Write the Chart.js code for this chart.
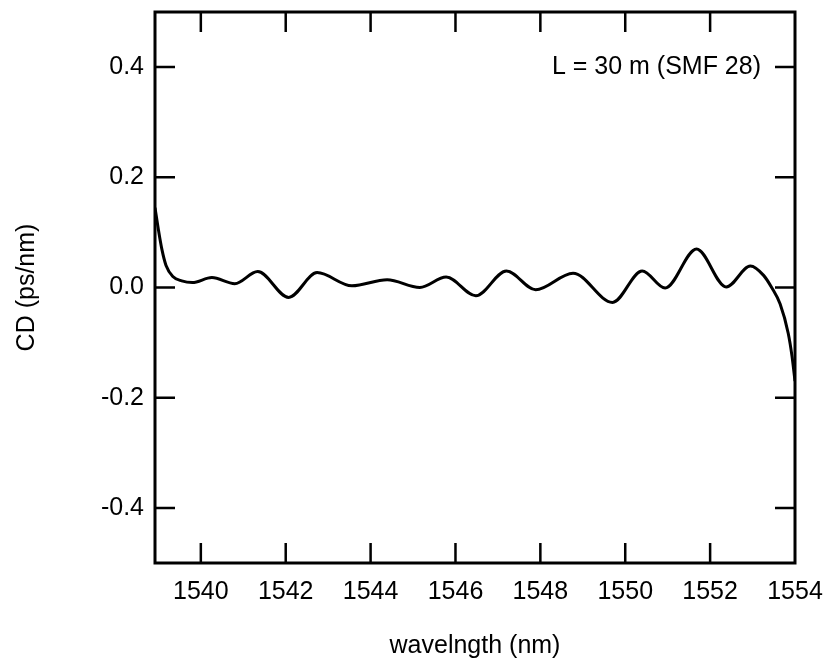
<!DOCTYPE html>
<html>
<head>
<meta charset="utf-8">
<script src="https://cdn.jsdelivr.net/npm/chart.js@4/dist/chart.umd.min.js"></script>
<style>
  html, body { margin: 0; padding: 0; background: #fff; }
  #wrap { width: 827px; height: 659px; }
</style>
</head>
<body>
<div id="wrap"><canvas id="myChart" width="827" height="659"></canvas></div>
<script>
// wavelength (nm) and chromatic dispersion (ps/nm)
var wavelength = [1538.92, 1539.0, 1539.08, 1539.18, 1539.34, 1539.55, 1539.8, 1540.26, 1540.8, 1541.34,
  1542.07, 1542.74, 1543.56, 1544.39, 1545.16, 1545.78, 1546.48, 1547.2, 1547.89, 1548.77,
  1549.7, 1550.4, 1550.94, 1551.68, 1552.38, 1552.95, 1553.26, 1553.45, 1553.65, 1553.84, 1553.93, 1554.0];
var cd = [0.145, 0.105, 0.07, 0.04, 0.02, 0.012, 0.009, 0.018, 0.007, 0.029,
  -0.018, 0.027, 0.003, 0.014, 0.0, 0.019, -0.015, 0.030, -0.004, 0.026,
  -0.027, 0.030, -0.001, 0.070, 0.001, 0.039, 0.022, 0.0, -0.030, -0.083, -0.125, -0.17];

var xTicks = [1540, 1542, 1544, 1546, 1548, 1550, 1552, 1554];
var yTicks = [-0.4, -0.2, 0.0, 0.2, 0.4];
var note = 'L = 30 m (SMF 28)';

var FONT = '"Liberation Sans", Arial, Helvetica, sans-serif';
Chart.defaults.font.family = FONT;
Chart.defaults.color = '#000';

// frame with inward ticks on all four sides + the note
var framePlugin = {
  id: 'frame',
  afterDraw: function(chart) {
    var ctx = chart.ctx, a = chart.chartArea;
    var xs = chart.scales.x, ys = chart.scales.y;
    var len = 20;
    ctx.save();
    ctx.strokeStyle = '#000';
    ctx.lineWidth = 2.5;
    ctx.beginPath();
    xTicks.forEach(function(v) {
      var px = xs.getPixelForValue(v);
      if (px >= a.right - 1) return;
      ctx.moveTo(px, a.bottom); ctx.lineTo(px, a.bottom - len);
      ctx.moveTo(px, a.top); ctx.lineTo(px, a.top + len);
    });
    yTicks.forEach(function(v) {
      var py = ys.getPixelForValue(v);
      ctx.moveTo(a.left, py); ctx.lineTo(a.left + len, py);
      ctx.moveTo(a.right, py); ctx.lineTo(a.right - len, py);
    });
    ctx.stroke();
    ctx.lineWidth = 3;
    ctx.strokeRect(a.left, a.top, a.right - a.left, a.bottom - a.top);

    ctx.fillStyle = '#000';
    ctx.font = '25px ' + FONT;
    ctx.textAlign = 'right';
    ctx.textBaseline = 'middle';
    ctx.fillText(note, a.right - 34, ys.getPixelForValue(0.4));
    ctx.restore();
  }
};

var ctx = document.getElementById('myChart').getContext('2d');
var myChart = new Chart(ctx, {
  type: 'line',
  data: {
    datasets: [{
      data: wavelength.map(function(w, i) { return { x: w, y: cd[i] }; }),
      borderColor: '#000',
      borderWidth: 3,
      pointRadius: 0,
      fill: false,
      cubicInterpolationMode: 'monotone'
    }]
  },
  options: {
    responsive: false,
    animation: false,
    layout: { padding: { top: 12, right: 32, left: 0, bottom: 0 } },
    plugins: { legend: { display: false }, tooltip: { enabled: false } },
    scales: {
      x: {
        type: 'linear',
        min: 1538.92,
        max: 1554,
        afterBuildTicks: function(scale) { scale.ticks = xTicks.map(function(v) { return { value: v }; }); },
        afterFit: function(scale) {
          scale.height = 96;
          scale.paddingLeft = 0; scale.paddingRight = 0;
        },
        grid: { display: false, drawTicks: false },
        border: { display: false },
        ticks: { font: { size: 25 }, padding: 14, maxRotation: 0, autoSkip: false,
          callback: function(v) { return String(v); } },
        title: { display: true, text: 'wavelngth (nm)', font: { size: 25, lineHeight: 1 }, padding: 0 }
      },
      y: {
        min: -0.5,
        max: 0.5,
        afterBuildTicks: function(scale) { scale.ticks = yTicks.map(function(v) { return { value: v }; }); },
        afterFit: function(scale) {
          scale.width = 155;
          scale.paddingTop = 0; scale.paddingBottom = 0;
        },
        grid: { display: false, drawTicks: false },
        border: { display: false },
        ticks: { font: { size: 25 }, padding: 11,
          callback: function(v) { return Number(v).toFixed(1); } },
        title: { display: true, text: 'CD (ps/nm)', font: { size: 25, lineHeight: 1 }, padding: { top: 14.5, bottom: 0 } }
      }
    }
  },
  plugins: [framePlugin]
});
</script>
</body>
</html>
